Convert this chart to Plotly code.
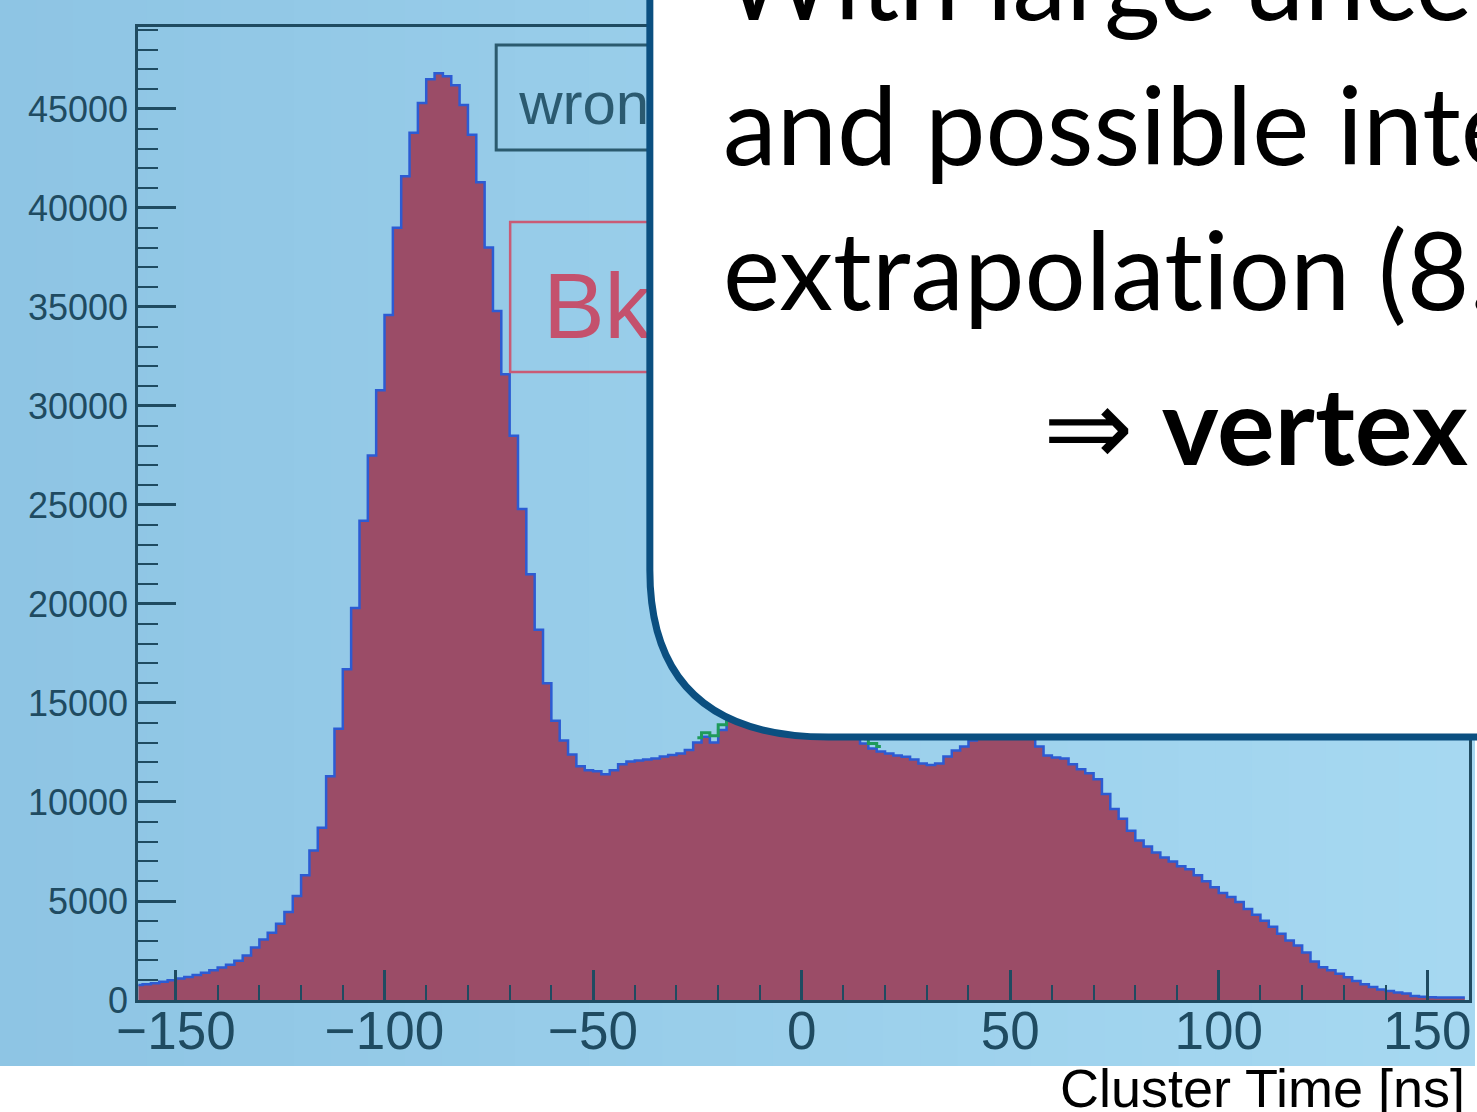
import plotly.graph_objects as go

# ---------------- data (2 ns bins, centres from -159 to 159) ----------------
bin_width_ns = 2
first_bin_centre = -159
n_bins = 160

counts_m160_m80 = [760, 800, 840, 920, 1000, 1080, 1160, 1260, 1380, 1500,
                   1640, 1780, 1980, 2250, 2650, 3050, 3400, 3850, 4450, 5250,
                   6300, 7550, 8700, 11300, 13700, 16700, 19800, 24200, 27500, 30800,
                   34600, 39000, 41600, 43800, 45300, 46500, 46800, 46650, 46200, 45200]
counts_m80_0 = [43700, 41300, 38000, 34800, 31600, 28500, 24800, 21500, 18700, 16000,
                14100, 13100, 12400, 11800, 11600, 11550, 11400, 11600, 11900, 12050,
                12100, 12150, 12200, 12300, 12370, 12450, 12630, 13000, 13300, 13000,
                13640, 14100, 14500, 14900, 15200, 15400, 15500, 15500, 15300, 15000]
counts_0_80 = [14600, 14200, 13900, 13600, 13400, 13300, 13300, 12950, 12700, 12550,
               12450, 12350, 12290, 12150, 11950, 11870, 11950, 12300, 12600, 12800,
               13100, 13400, 13600, 13700, 13700, 13600, 13450, 13200, 12800, 12350,
               12250, 12200, 11900, 11650, 11450, 11150, 10400, 9650, 9150, 8550]
counts_80_160 = [8050, 7750, 7450, 7200, 7000, 6750, 6600, 6300, 6000, 5700,
                 5400, 5200, 4950, 4600, 4300, 4000, 3700, 3350, 3000, 2750,
                 2400, 1950, 1650, 1500, 1330, 1150, 960, 800, 660, 530,
                 450, 380, 330, 200, 160, 140, 130, 120, 120, 120]

# small visible pieces of the green (signal) histogram
signal_x = [-25, -23, -21, -19, -17, -15, None, 15, 17, 19]
signal_y = [13250, 13500, 13350, 13900, 14350, 14800, None, 13200, 12950, 12800]

counts = counts_m160_m80 + counts_m80_0 + counts_0_80 + counts_80_160
centres = [first_bin_centre + bin_width_ns * i for i in range(n_bins)]

x_ticks_major = 50
x_ticks_minor = 10
y_ticks_major = 5000
y_ticks_minor = 1000

box_lines = ["With large uncertainties",
             "and possible interactions",
             "extrapolat\u200cion (8.5 m)",
             "⇒ <b>vertex time</b>"]
legend_texts = ["wrong", "Bkg"]
x_title = "Cluster Time [ns]"

# ---------------- geometry helpers (pixels -> paper) ----------------
W, H = 1477, 1112
ML, MR, MT, MB = 138, 5, 27, 112
PW = W - ML - MR
PH = H - MT - MB


def px_x(p):
    return (p - ML) / PW


def px_y(p):
    return (H - MB - p) / PH


RED = "#9b4c67"
BLUE_LINE = "#2c5bd3"
AXIS_COL = "#1f4b61"
BOX_BORDER = "#0b4f80"

fig = go.Figure()

fig.add_trace(go.Scatter(
    x=centres, y=counts, mode="lines", line=dict(shape="hvh", color=BLUE_LINE, width=2.5),
    fill="tozeroy", fillcolor=RED, hoverinfo="skip", showlegend=False))
fig.add_trace(go.Scatter(
    x=signal_x, y=signal_y, mode="lines", line=dict(shape="hvh", color="#1f9a5a", width=3),
    hoverinfo="skip", showlegend=False, connectgaps=False))

shapes = []
# background gradient (light blue) in stripes
c0 = (142, 197, 228)
c1 = (166, 216, 241)
n_str = 40
for i in range(n_str):
    f = i / (n_str - 1)
    col = tuple(round(c0[k] + (c1[k] - c0[k]) * f) for k in range(3))
    shapes.append(dict(type="rect", xref="paper", yref="paper", layer="below",
                       x0=px_x(W * i / n_str - 1), x1=px_x(W * (i + 1) / n_str + 1),
                       y0=px_y(0), y1=px_y(1066),
                       fillcolor="rgb(%d,%d,%d)" % col, line=dict(width=0)))

# legend boxes (partly hidden behind the white box)
shapes.append(dict(type="rect", xref="paper", yref="paper", layer="above",
                   x0=px_x(497), x1=px_x(760), y0=px_y(150), y1=px_y(45),
                   line=dict(color="#2b5a6e", width=3), fillcolor="rgba(0,0,0,0)",
                   label=dict(text=legend_texts[0], textposition="middle left", padding=20,
                              font=dict(family="Liberation Sans, Arial", size=60, color="#2b5a70"))))
shapes.append(dict(type="rect", xref="paper", yref="paper", layer="above",
                   x0=px_x(511), x1=px_x(780), y0=px_y(372), y1=px_y(222),
                   line=dict(color="#c95b76", width=2.5), fillcolor="rgba(0,0,0,0)",
                   label=dict(text=legend_texts[1], textposition="middle left", padding=30,
                              font=dict(family="Liberation Sans, Arial", size=92, color="#c4516d"))))

# white rounded callout box
bx, by = 651, 737
path = ("M {a} {b} L {c} {d} Q {e} {f} {g} {h} L {i} {j} L {k} {l} Z").format(
    a=px_x(bx), b=px_y(-100), c=px_x(bx), d=px_y(570),
    e=px_x(bx), f=px_y(by), g=px_x(830), h=px_y(by),
    i=px_x(1600), j=px_y(by), k=px_x(1600), l=px_y(-100))
shapes.append(dict(type="path", xref="paper", yref="paper", layer="above", path=path,
                   fillcolor="white", line=dict(color=BOX_BORDER, width=7)))

annotations = []
FS = 108
line_specs = [(722, 20), (722, 165), (722, 310), (1043, 465)]
for txt, (lx, base) in zip(box_lines, line_specs):
    annotations.append(dict(text=txt, xref="paper", yref="paper", showarrow=False,
                            x=px_x(lx), y=px_y(base - 0.387 * FS), xanchor="left", yanchor="middle",
                            font=dict(family="Lato, Noto Sans, sans-serif", size=FS, color="black")))
annotations.append(dict(text=x_title, xref="paper", yref="paper", showarrow=False,
                        x=px_x(1470), y=px_y(1088), xanchor="right", yanchor="middle",
                        font=dict(family="Liberation Sans, Arial", size=54, color="black")))

fig.update_layout(
    width=W, height=H, margin=dict(l=ML, r=MR, t=MT, b=MB),
    paper_bgcolor="white", plot_bgcolor="rgba(0,0,0,0)",
    shapes=shapes, annotations=annotations, showlegend=False,
    xaxis=dict(range=[-159.1, 160.0], tick0=0, dtick=x_ticks_major, ticks="inside",
               ticklen=30, tickwidth=2.5, tickcolor=AXIS_COL, showgrid=False, zeroline=False,
               showline=True, linecolor=AXIS_COL, linewidth=2.5, mirror=True,
               minor=dict(ticks="inside", dtick=x_ticks_minor, ticklen=15, tickwidth=2, tickcolor=AXIS_COL),
               tickfont=dict(family="Liberation Sans, Arial", size=53, color=AXIS_COL),
               ticklabelstandoff=-17),
    yaxis=dict(range=[0, 49140], tick0=0, dtick=y_ticks_major, ticks="inside", tickformat="d",
               ticklen=38, tickwidth=2.5, tickcolor=AXIS_COL, showgrid=False, zeroline=False,
               showline=True, linecolor=AXIS_COL, linewidth=2.5, mirror=True,
               minor=dict(ticks="inside", dtick=y_ticks_minor, ticklen=20, tickwidth=2, tickcolor=AXIS_COL),
               tickfont=dict(family="Liberation Sans, Arial", size=36, color=AXIS_COL),
               ticklabelstandoff=0),
)

fig.write_html("out.html")
